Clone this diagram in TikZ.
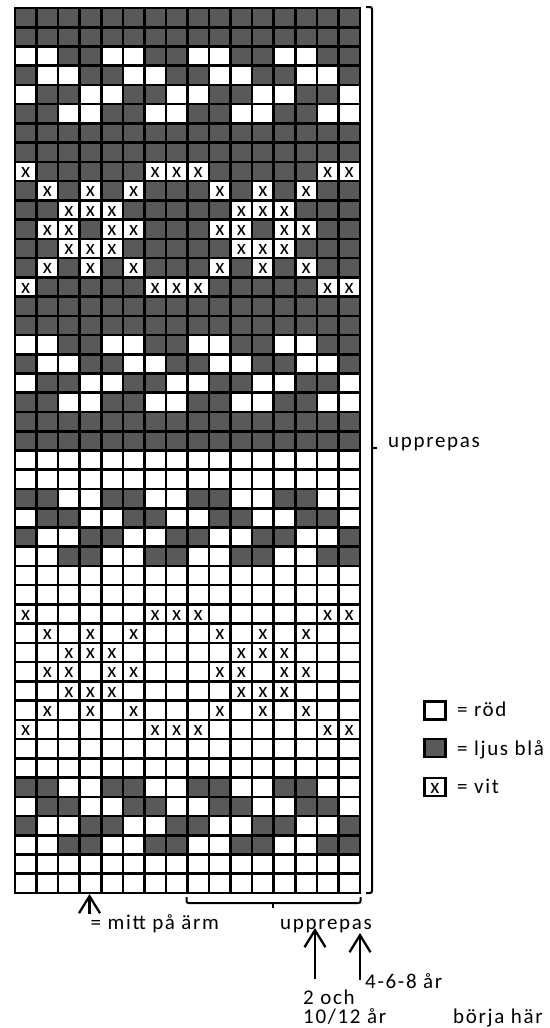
\documentclass[tikz,border=0pt]{standalone}
\usepackage{fontspec}
\setmainfont{Carlito}
\newfontfamily\lbl{Carlito}[LetterSpace=8]
\usetikzlibrary{arrows.meta}
\definecolor{ljusbla}{HTML}{595959}
\def\cw{21.5625}
\def\rh{19.2391}
\def\Pd{1,1,1,1,1,1,1,1,1,1,1,1,1,1,1,1}
\def\Pw{0,0,0,0,0,0,0,0,0,0,0,0,0,0,0,0}
\def\Sa{0,0,1,1,0,0,1,1,0,0,1,1,0,0,1,1}
\def\Sb{1,0,0,1,1,0,0,1,1,0,0,1,1,0,0,1}
\def\Sc{0,1,1,0,0,1,1,0,0,1,1,0,0,1,1,0}
\def\Sd{1,1,0,0,1,1,0,0,1,1,0,0,1,1,0,0}
% x rows on dark ground
\def\DXa{2,1,1,1,1,1,2,2,2,1,1,1,1,1,2,2}
\def\DXb{1,2,1,2,1,2,1,1,1,2,1,2,1,2,1,1}
\def\DXc{1,1,2,2,2,1,1,1,1,1,2,2,2,1,1,1}
\def\DXd{1,2,2,1,2,2,1,1,1,2,2,1,2,2,1,1}
% x rows on white ground
\def\WXa{2,0,0,0,0,0,2,2,2,0,0,0,0,0,2,2}
\def\WXb{0,2,0,2,0,2,0,0,0,2,0,2,0,2,0,0}
\def\WXc{0,0,2,2,2,0,0,0,0,0,2,2,2,0,0,0}
\def\WXd{0,2,2,0,2,2,0,0,0,2,2,0,2,2,0,0}
\newcommand\cellrow[2]{%
  \foreach \c [count=\i] in #2 {%
    \ifnum\c=1
      \fill[ljusbla] ({15+(\i-1)*\cw},{8+(#1-1)*\rh}) rectangle ++(\cw,\rh);
    \fi
    \ifnum\c=2
      \node[xmark] (x-#1-\i) at ({15+(\i-0.5)*\cw},{8+(#1-0.5)*\rh+1.2}) {x};
    \fi
  }%
}
\begin{document}
\begin{tikzpicture}[x=1pt,y=-1pt,
  gridline/.style={line width=2.6pt, line cap=rect},
  lbltext/.style={inner sep=0pt, anchor=base west, text height=14pt, text depth=4pt,
    font=\lbl\fontsize{21}{25}\selectfont},
  xmark/.style={inner sep=0pt, text height=9.8pt, text depth=0pt,
    font=\fontsize{21}{25}\selectfont},
  arr/.style={line width=2.3pt, -{Straight Barb[length=17pt, width=21pt]}},
  bracket/.style={line width=2pt, rounded corners=2pt},
  legbox/.style={draw, line width=2.4pt, minimum width=21pt, minimum height=18pt, inner sep=0pt}]
\useasboundingbox (0,0) rectangle (549,1028);
\fill[white] (0,0) rectangle (549,1028);
% cells
\cellrow{1}{\Pd}
\cellrow{2}{\Pd}
\cellrow{3}{\Sa}
\cellrow{4}{\Sb}
\cellrow{5}{\Sc}
\cellrow{6}{\Sd}
\cellrow{7}{\Pd}
\cellrow{8}{\Pd}
\cellrow{9}{\DXa}
\cellrow{10}{\DXb}
\cellrow{11}{\DXc}
\cellrow{12}{\DXd}
\cellrow{13}{\DXc}
\cellrow{14}{\DXb}
\cellrow{15}{\DXa}
\cellrow{16}{\Pd}
\cellrow{17}{\Pd}
\cellrow{18}{\Sa}
\cellrow{19}{\Sb}
\cellrow{20}{\Sc}
\cellrow{21}{\Sd}
\cellrow{22}{\Pd}
\cellrow{23}{\Pd}
\cellrow{24}{\Pw}
\cellrow{25}{\Pw}
\cellrow{26}{\Sd}
\cellrow{27}{\Sc}
\cellrow{28}{\Sb}
\cellrow{29}{\Sa}
\cellrow{30}{\Pw}
\cellrow{31}{\Pw}
\cellrow{32}{\WXa}
\cellrow{33}{\WXb}
\cellrow{34}{\WXc}
\cellrow{35}{\WXd}
\cellrow{36}{\WXc}
\cellrow{37}{\WXb}
\cellrow{38}{\WXa}
\cellrow{39}{\Pw}
\cellrow{40}{\Pw}
\cellrow{41}{\Sd}
\cellrow{42}{\Sc}
\cellrow{43}{\Sb}
\cellrow{44}{\Sa}
\cellrow{45}{\Pw}
\cellrow{46}{\Pw}
% grid lines
\foreach \i in {0,...,16} \draw[gridline] ({15+\i*\cw},8) -- ({15+\i*\cw},893);
\foreach \r in {0,...,46} \draw[gridline] (15,{8+\r*\rh}) -- (360,{8+\r*\rh});
% right bracket
\draw[bracket] (366,7) -- (372,7) -- (372,893) -- (366,893);
\draw[line width=2pt] (372,448) -- (377,448);
\node[lbltext] (rep1) at (388,447) {upprepas};
% bottom bracket
\draw[bracket] (186.5,897) -- (186.5,903) -- (360.5,903) -- (360.5,897);
\draw[line width=2pt] (273,903) -- (273,908);
% arrows
\coordinate (m-tip) at (89.5,894);
\coordinate (m-end) at (89.5,914);
\draw[arr] (m-end) -- (m-tip);
\node[lbltext] (mitt) at (90.5,929.5) {= mitt på ärm};
\node[lbltext] (rep2) at (280,929.5) {upprepas};
\coordinate (a-tip) at (315,928);
\coordinate (a-end) at (315,979);
\draw[arr] (a-end) -- (a-tip);
\coordinate (b-tip) at (360,933);
\coordinate (b-end) at (360,980);
\draw[arr] (b-end) -- (b-tip);
\node[lbltext] (age1) at (365,988) {4-6-8 år};
\node[lbltext] (age2) at (303,1004.5) {2 och};
\node[lbltext] (age3) at (303,1023.5) {10/12 år};
\node[lbltext] (start) at (453,1023.5) {börja här};
% legend
\node[legbox, fill=white] (lg1) at (435,710.5) {};
\node[legbox, fill=ljusbla] (lg2) at (435,748) {};
\node[legbox, fill=white] (lg3) at (435,787) {};
\node[xmark] (lg3x) at (435,788.2) {x};
\node[lbltext] (lt1) at (457,716.7) {= röd};
\node[lbltext] (lt2) at (457,755.3) {= ljus blå};
\node[lbltext] (lt3) at (457,793.3) {= vit};
\end{tikzpicture}
\end{document}
